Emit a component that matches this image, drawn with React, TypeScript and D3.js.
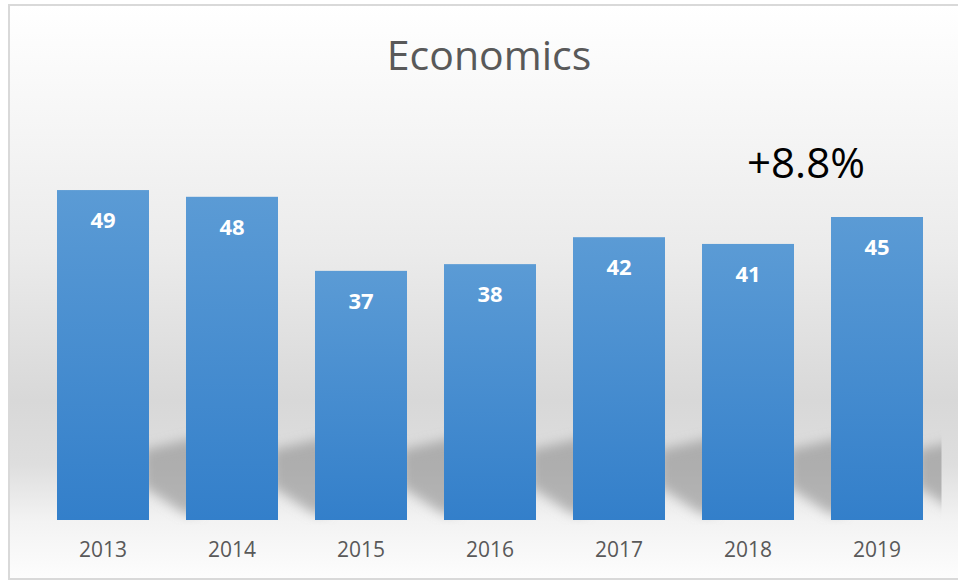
import React from "react";
import * as d3 from "d3";

const categories = ["2013", "2014", "2015", "2016", "2017", "2018", "2019"];
const values = [49, 48, 37, 38, 42, 41, 45];
const yTicks = [0, 60];
const title = "Economics";
const annotation = "+8.8%";

const W = 958;
const H = 580;
const FONT = "'Open Sans', 'Noto Sans', sans-serif";

export default function App() {
  const x = d3
    .scaleBand<string>()
    .domain(categories)
    .range([38.5, 941.5])
    .paddingInner(0.2868)
    .paddingOuter(0.1434);
  const y = d3.scaleLinear().domain([yTicks[0], yTicks[1]]).range([520, 116]);
  const bw = x.bandwidth();
  const base = y(0);

  const shadowPath = (cat: string) => {
    const x1 = (x(cat) as number) + bw;
    const p = d3.path();
    p.moveTo(x1 - 6, 450);
    p.lineTo(x1 + 50, 437);
    p.lineTo(x1 + 50, 514);
    p.lineTo(x1 + 36, 514);
    p.lineTo(x1 - 6, 486);
    p.closePath();
    return p.toString();
  };

  const x2018 = (x("2018") as number) + bw / 2;

  return (
    <svg
      width={W}
      height={H}
      style={{ position: "absolute", left: 0, top: 0 }}
      xmlns="http://www.w3.org/2000/svg"
    >
      <defs>
        <linearGradient id="bg" x1="0" y1="0" x2="0" y2="1">
          <stop offset="0" stopColor="#ffffff" />
          <stop offset="0.2" stopColor="#f6f6f6" />
          <stop offset="0.43" stopColor="#ebebeb" />
          <stop offset="0.69" stopColor="#d8d8d8" />
          <stop offset="0.8" stopColor="#dedede" />
          <stop offset="0.9" stopColor="#f3f3f3" />
          <stop offset="1" stopColor="#fdfdfd" />
        </linearGradient>
        <linearGradient id="barGrad" x1="0" y1="0" x2="0" y2="1">
          <stop offset="0" stopColor="#5b9bd5" />
          <stop offset="1" stopColor="#337fca" />
        </linearGradient>
        <filter id="blur" x="-50%" y="-50%" width="200%" height="200%">
          <feGaussianBlur stdDeviation="6" />
        </filter>
        <clipPath id="plotClip">
          <rect x={38.5} y={100} width={903} height={425} />
        </clipPath>
      </defs>

      <rect x={9} y={5} width={960} height={574} fill="url(#bg)" stroke="#d9d9d9" strokeWidth={2} />

      <text
        x={489}
        y={70}
        textAnchor="middle"
        fontFamily={FONT}
        fontSize={41}
        fill="#595959"
      >
        {title}
      </text>

      <g clipPath="url(#plotClip)">
        <g filter="url(#blur)">
          {categories.map((c) => (
            <path key={"s" + c} d={shadowPath(c)} fill="#8f8f8f" fillOpacity={0.62} />
          ))}
        </g>
      </g>

      {categories.map((c, i) => (
        <rect
          key={c}
          x={x(c)}
          y={y(values[i])}
          width={bw}
          height={base - y(values[i])}
          fill="url(#barGrad)"
        />
      ))}

      {categories.map((c, i) => (
        <text
          key={"v" + c}
          x={(x(c) as number) + bw / 2}
          y={y(values[i]) + 38}
          textAnchor="middle"
          fontFamily={FONT}
          fontWeight="bold"
          fontSize={22}
          fill="#ffffff"
        >
          {values[i]}
        </text>
      ))}

      {categories.map((c) => (
        <text
          key={"t" + c}
          x={(x(c) as number) + bw / 2}
          y={557}
          textAnchor="middle"
          fontFamily={FONT}
          fontSize={21}
          fill="#595959"
        >
          {c}
        </text>
      ))}

      <text
        x={x2018 + 58}
        y={178}
        textAnchor="middle"
        fontFamily={FONT}
        fontSize={42}
        fill="#000000"
      >
        {annotation}
      </text>
    </svg>
  );
}
